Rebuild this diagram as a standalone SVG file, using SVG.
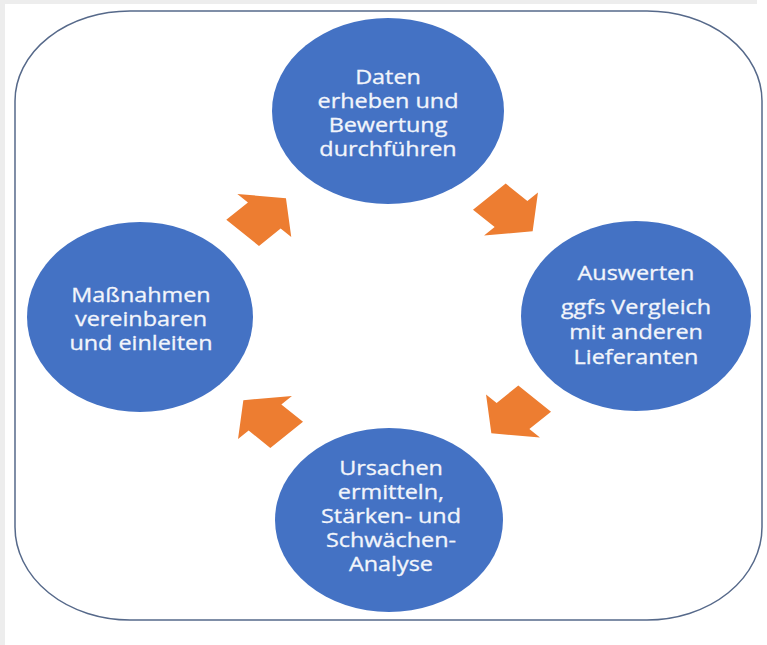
<svg xmlns="http://www.w3.org/2000/svg" xmlns:xlink="http://www.w3.org/1999/xlink" width="767" height="645" viewBox="0 0 767 645">
  <style>
    .node { fill: #4472C4; }
    .label { fill: #F2F5FB; stroke: #F2F5FB; stroke-width: 0.3; font-family: "Open Sans", "DejaVu Sans", sans-serif; font-size: 19.5px; text-anchor: middle; }
    .flow { fill: #ED7D31; }
    .frame { fill: #FFFFFF; stroke: #56698A; stroke-width: 1.5; }
  </style>
  <defs>
    <!-- block arrow pointing along +x, centred on the origin -->
    <polygon id="blockArrow" points="-24.5,-18.5 0,-18.5 0,-30.5 24.5,0 0,30.5 0,18.5 -24.5,18.5"/>
  </defs>

  <!-- page background with light margin band -->
  <rect x="0" y="0" width="767" height="645" fill="#FFFFFF"/>
  <rect x="0" y="0" width="757" height="4" fill="#EDEDED"/>
  <rect x="0" y="0" width="5" height="645" fill="#EDEDED"/>

  <!-- rounded outer frame -->
  <path class="frame" d="M130,11 H647 A115,90 0 0 1 762,101 V527 A115,93 0 0 1 647,620 H130 A115,93 0 0 1 15,527 V101 A115,90 0 0 1 130,11 Z"/>

  <!-- cycle arrows -->
  <g id="connectors" class="flow">
    <use xlink:href="#blockArrow" transform="translate(264.3 215.5) scale(1.25 1) rotate(-45)"/>
    <use xlink:href="#blockArrow" transform="translate(511 214) scale(1.25 1) rotate(45)"/>
    <use xlink:href="#blockArrow" transform="translate(513 416) scale(1.25 1) rotate(135)"/>
    <use xlink:href="#blockArrow" transform="translate(265 417.5) scale(1.25 1) rotate(-135)"/>
  </g>

  <g id="node-daten">
    <ellipse class="node" cx="388" cy="111" rx="116" ry="93"/>
    <g transform="translate(388 0) scale(1.2 1)">
      <text class="label" x="0" y="84">Daten</text>
      <text class="label" x="0" y="108">erheben und</text>
      <text class="label" x="0" y="132">Bewertung</text>
      <text class="label" x="0" y="156">durchführen</text>
    </g>
  </g>

  <g id="node-auswerten">
    <ellipse class="node" cx="636" cy="316" rx="115" ry="95"/>
    <g transform="translate(636 0) scale(1.2 1)">
      <text class="label" x="0" y="280">Auswerten</text>
      <text class="label" x="0" y="314">ggfs Vergleich</text>
      <text class="label" x="0" y="339">mit anderen</text>
      <text class="label" x="0" y="364">Lieferanten</text>
    </g>
  </g>

  <g id="node-ursachen">
    <ellipse class="node" cx="389" cy="520" rx="114" ry="92"/>
    <g transform="translate(391 0) scale(1.2 1)">
      <text class="label" x="0" y="475">Ursachen</text>
      <text class="label" x="0" y="499">ermitteln,</text>
      <text class="label" x="0" y="523">Stärken- und</text>
      <text class="label" x="0" y="547">Schwächen-</text>
      <text class="label" x="0" y="571">Analyse</text>
    </g>
  </g>

  <g id="node-massnahmen">
    <ellipse class="node" cx="140" cy="317" rx="113" ry="95"/>
    <g transform="translate(141 0) scale(1.2 1)">
      <text class="label" x="0" y="302">Maßnahmen</text>
      <text class="label" x="0" y="326">vereinbaren</text>
      <text class="label" x="0" y="350">und einleiten</text>
    </g>
  </g>
</svg>
